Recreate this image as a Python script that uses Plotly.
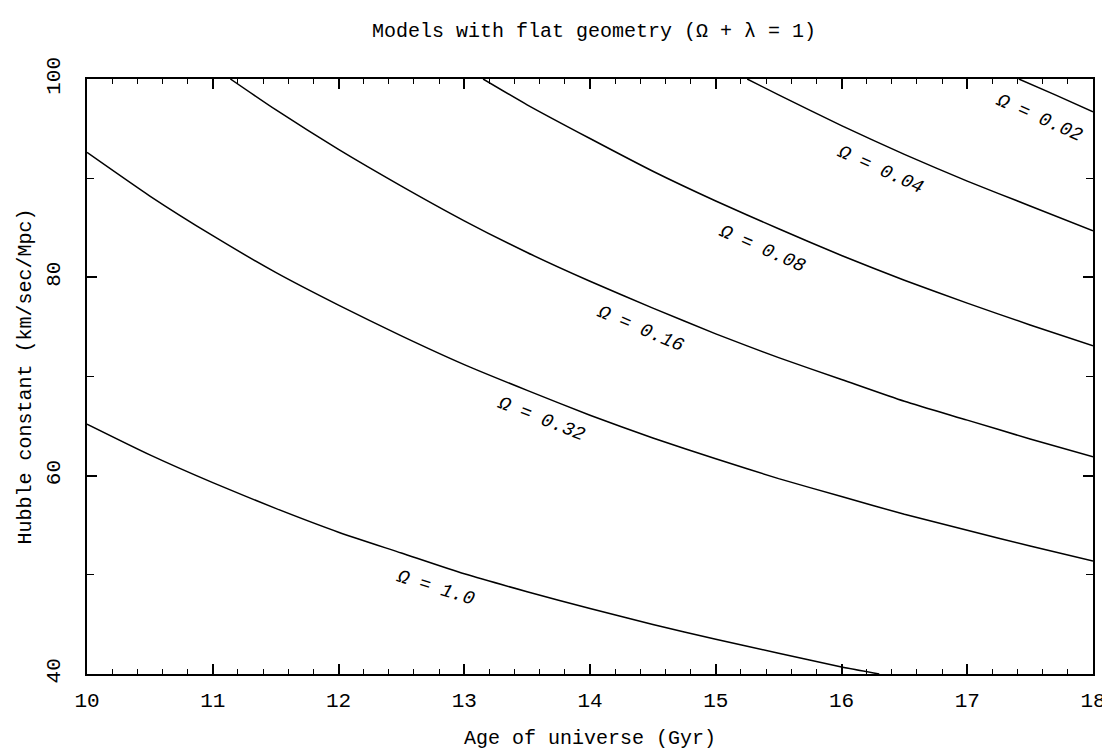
import plotly.graph_objects as go

# ---- data (Age in Gyr, H0 in km/sec/Mpc) ----
age_omega_1_0 = [10.0, 10.5, 11.0, 11.5, 12.0, 12.5, 13.0, 13.5, 14.0, 14.5, 15.0, 15.5, 16.0, 16.3]
h0_omega_1_0 = [65.2, 62.1, 59.3, 56.7, 54.3, 52.2, 50.1, 48.3, 46.6, 45.0, 43.5, 42.1, 40.7, 40.0]

age_omega_0_32 = [10.0, 10.5, 11.0, 11.5, 12.0, 12.5, 13.0, 13.5, 14.0, 14.5, 15.0, 15.5, 16.0, 16.5, 17.0, 17.5, 18.0]
h0_omega_0_32 = [92.6, 88.2, 84.2, 80.5, 77.2, 74.1, 71.2, 68.6, 66.1, 63.8, 61.7, 59.7, 57.9, 56.1, 54.5, 52.9, 51.4]

age_omega_0_16 = [11.14, 11.5, 12.0, 12.5, 13.0, 13.5, 14.0, 14.5, 15.0, 15.5, 16.0, 16.5, 17.0, 17.5, 18.0]
h0_omega_0_16 = [100.0, 96.9, 92.9, 89.2, 85.7, 82.5, 79.6, 76.9, 74.3, 71.9, 69.7, 67.5, 65.6, 63.7, 61.9]

age_omega_0_08 = [13.15, 13.5, 14.0, 14.5, 15.0, 15.5, 16.0, 16.5, 17.0, 17.5, 18.0]
h0_omega_0_08 = [100.0, 97.4, 94.0, 90.7, 87.7, 84.9, 82.2, 79.7, 77.4, 75.2, 73.1]

age_omega_0_04 = [15.25, 15.5, 16.0, 16.5, 17.0, 17.5, 18.0]
h0_omega_0_04 = [100.0, 98.4, 95.3, 92.4, 89.7, 87.2, 84.7]

age_omega_0_02 = [17.41, 17.7, 18.0]
h0_omega_0_02 = [100.0, 98.4, 96.7]

curve_labels = ["Ω = 1.0", "Ω = 0.32", "Ω = 0.16", "Ω = 0.08", "Ω = 0.04", "Ω = 0.02"]

x_tick_values = [10, 11, 12, 13, 14, 15, 16, 17, 18]
y_tick_values = [40, 60, 80, 100]

title_text = "Models with flat geometry (Ω + λ = 1)"
x_title = "Age of universe (Gyr)"
y_title = "Hubble constant (km/sec/Mpc)"

# ---- label placement (data coords) and rotation ----
label_pos_age = [12.77, 13.61, 14.40, 15.37, 16.31, 17.57]
label_pos_h0 = [48.7, 65.7, 74.75, 82.9, 90.8, 96.1]
label_angle = [17.5, 21.5, 23.0, 23.7, 24.3, 24.0]

FONT = "Liberation Mono, Courier New, monospace"

curves = [
    (age_omega_1_0, h0_omega_1_0),
    (age_omega_0_32, h0_omega_0_32),
    (age_omega_0_16, h0_omega_0_16),
    (age_omega_0_08, h0_omega_0_08),
    (age_omega_0_04, h0_omega_0_04),
    (age_omega_0_02, h0_omega_0_02),
]

fig = go.Figure()
for (xs, ys), name in zip(curves, curve_labels):
    fig.add_trace(go.Scatter(
        x=xs, y=ys, mode="lines", name=name,
        line=dict(color="black", width=1.5, shape="spline", smoothing=0.6),
        hoverinfo="x+y+name", showlegend=False,
    ))

for txt, ax_, ay_, ang in zip(curve_labels, label_pos_age, label_pos_h0, label_angle):
    fig.add_annotation(
        x=ax_, y=ay_, xref="x", yref="y", text=txt, showarrow=False,
        textangle=ang, xanchor="center", yanchor="middle",
        font=dict(family=FONT, size=19, color="black", style="italic"),
    )

axis_common = dict(
    showline=True, linecolor="black", linewidth=1.5, mirror="ticks",
    ticks="inside", tickcolor="black", tickwidth=1.5, ticklen=10,
    showgrid=False, zeroline=False,
    tickfont=dict(family=FONT, size=21, color="black"),
)

fig.update_xaxes(
    **axis_common,
    range=[10, 18], tickvals=x_tick_values, ticklabelstandoff=6,
    minor=dict(ticks="inside", ticklen=5, dtick=0.2, tick0=10, tickcolor="black", tickwidth=1.2, showgrid=False),
    title=dict(text=x_title, font=dict(family=FONT, size=20, color="black"), standoff=18),
)
fig.update_yaxes(
    **axis_common,
    range=[40, 100], tickvals=y_tick_values, tickangle=-90, ticklabelstandoff=17,
    minor=dict(ticks="inside", ticklen=7, dtick=10, tick0=40, tickcolor="black", tickwidth=1.2, showgrid=False),
    title=dict(text=y_title, font=dict(family=FONT, size=20, color="black"), standoff=6),
)

fig.update_layout(
    width=1110, height=749,
    margin=dict(l=79, r=17, t=71, b=79),
    plot_bgcolor="white", paper_bgcolor="white",
    title=dict(text=title_text, x=0.5 * (79 + 1093) / 1110, xanchor="center",
               y=1 - 22 / 749, yanchor="middle",
               font=dict(family=FONT, size=20, color="black")),
)

fig.write_html("out.html")
